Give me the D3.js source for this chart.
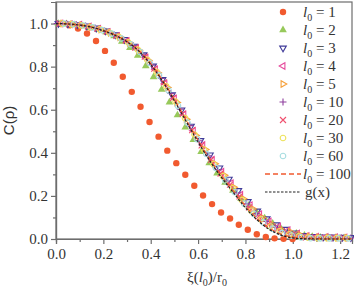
<!DOCTYPE html>
<html>
<head>
<meta charset="utf-8">
<script src="https://cdn.jsdelivr.net/npm/d3@7"></script>
<style>
  body { margin: 0; background: #fff; }
  svg { display: block; }
</style>
</head>
<body>
<script>
// data
var labels = ["1", "2", "3", "4", "5", "10", "20", "30", "60"];

var s1 = [[0.018,0.999],[0.056,0.992],[0.093,0.977],[0.131,0.954],[0.169,0.919],[0.207,0.873],[0.244,0.818],[0.282,0.753],[0.320,0.683],[0.357,0.614],[0.395,0.543],[0.433,0.475],[0.470,0.410],[0.508,0.352],[0.546,0.298],[0.584,0.247],[0.621,0.202],[0.659,0.162],[0.697,0.123],[0.735,0.095],[0.772,0.066],[0.810,0.043],[0.848,0.022],[0.886,0.009],[0.923,0.003],[0.961,0.001],[0.999,0.000]];

var s2 = [[0.010,1.000],[0.044,0.998],[0.077,0.994],[0.111,0.988],[0.144,0.980],[0.178,0.972],[0.211,0.961],[0.245,0.942],[0.278,0.917],[0.312,0.887],[0.345,0.851],[0.379,0.803],[0.412,0.752],[0.446,0.694],[0.479,0.635],[0.513,0.575],[0.546,0.519],[0.580,0.460],[0.613,0.405],[0.647,0.352],[0.680,0.305],[0.714,0.262],[0.747,0.225],[0.781,0.188],[0.814,0.156],[0.848,0.124],[0.881,0.097],[0.915,0.072],[0.948,0.052],[0.982,0.038],[1.015,0.026],[1.049,0.017],[1.082,0.011],[1.116,0.008],[1.149,0.006],[1.183,0.005],[1.216,0.004]];

var s3 = [[0.01,1.000],[0.05,0.998],[0.09,0.995],[0.13,0.989],[0.17,0.979],[0.21,0.966],[0.25,0.948],[0.29,0.926],[0.33,0.895],[0.37,0.855],[0.41,0.803],[0.45,0.740],[0.49,0.670],[0.53,0.599],[0.57,0.524],[0.61,0.457],[0.65,0.390],[0.69,0.330],[0.73,0.278],[0.77,0.225],[0.81,0.174],[0.85,0.130],[0.89,0.094],[0.93,0.066],[0.97,0.045],[1.01,0.028],[1.05,0.017],[1.09,0.012],[1.13,0.010],[1.17,0.009],[1.21,0.008],[1.245,0.007]];

var s4 = [[0.02,1.000],[0.06,0.997],[0.10,0.994],[0.14,0.986],[0.18,0.976],[0.22,0.961],[0.26,0.942],[0.30,0.919],[0.34,0.886],[0.38,0.841],[0.42,0.787],[0.46,0.721],[0.50,0.652],[0.54,0.578],[0.58,0.502],[0.62,0.436],[0.66,0.368],[0.70,0.312],[0.74,0.259],[0.78,0.205],[0.82,0.157],[0.86,0.115],[0.90,0.081],[0.94,0.058],[0.98,0.040],[1.02,0.025],[1.06,0.014],[1.10,0.010],[1.14,0.009],[1.18,0.008],[1.22,0.007]];

var s5 = [[0.03,1.000],[0.07,0.996],[0.11,0.992],[0.15,0.984],[0.19,0.972],[0.23,0.957],[0.27,0.937],[0.31,0.911],[0.35,0.876],[0.39,0.828],[0.43,0.771],[0.47,0.703],[0.51,0.634],[0.55,0.556],[0.59,0.480],[0.63,0.415],[0.67,0.349],[0.71,0.296],[0.75,0.240],[0.79,0.187],[0.83,0.140],[0.87,0.100],[0.91,0.069],[0.95,0.045],[0.99,0.033],[1.03,0.020],[1.07,0.012],[1.11,0.008],[1.15,0.007],[1.19,0.006],[1.23,0.006]];

var s10 = [[0.005,1.000],[0.045,0.999],[0.085,0.995],[0.125,0.989],[0.165,0.979],[0.205,0.965],[0.245,0.948],[0.285,0.926],[0.325,0.898],[0.365,0.858],[0.405,0.807],[0.445,0.745],[0.485,0.675],[0.525,0.603],[0.565,0.526],[0.605,0.456],[0.645,0.386],[0.685,0.322],[0.725,0.269],[0.765,0.214],[0.805,0.163],[0.845,0.118],[0.885,0.081],[0.925,0.054],[0.965,0.034],[1.005,0.019],[1.045,0.010],[1.085,0.007],[1.125,0.006],[1.165,0.005],[1.205,0.005],[1.245,0.005]];

var s20 = [[0.015,1.000],[0.055,0.998],[0.095,0.994],[0.135,0.987],[0.175,0.976],[0.215,0.962],[0.255,0.943],[0.295,0.921],[0.335,0.888],[0.375,0.846],[0.415,0.791],[0.455,0.727],[0.495,0.655],[0.535,0.582],[0.575,0.505],[0.615,0.435],[0.655,0.367],[0.695,0.304],[0.735,0.252],[0.775,0.198],[0.815,0.147],[0.855,0.104],[0.895,0.069],[0.935,0.046],[0.975,0.028],[1.015,0.016],[1.055,0.008],[1.095,0.006],[1.135,0.005],[1.175,0.005],[1.215,0.004]];

var s30 = [[0.025,1.000],[0.065,0.997],[0.105,0.992],[0.145,0.984],[0.185,0.973],[0.225,0.958],[0.265,0.938],[0.305,0.913],[0.345,0.879],[0.385,0.832],[0.425,0.776],[0.465,0.709],[0.505,0.638],[0.545,0.561],[0.585,0.485],[0.625,0.415],[0.665,0.348],[0.705,0.291],[0.745,0.235],[0.785,0.180],[0.825,0.131],[0.865,0.091],[0.905,0.058],[0.945,0.036],[0.985,0.022],[1.025,0.012],[1.065,0.006],[1.105,0.004],[1.145,0.004],[1.185,0.004],[1.225,0.004]];

var s60 = [[0.035,1.000],[0.075,0.996],[0.115,0.991],[0.155,0.982],[0.195,0.969],[0.235,0.953],[0.275,0.931],[0.315,0.904],[0.355,0.868],[0.395,0.818],[0.435,0.759],[0.475,0.690],[0.515,0.618],[0.555,0.540],[0.595,0.464],[0.635,0.395],[0.675,0.330],[0.715,0.272],[0.755,0.217],[0.795,0.164],[0.835,0.117],[0.875,0.077],[0.915,0.048],[0.955,0.027],[0.995,0.016],[1.035,0.008],[1.075,0.004],[1.115,0.003],[1.155,0.003],[1.195,0.003],[1.235,0.003]];

// lines, sampled every 0.05
var lineX = [0,0.05,0.10,0.15,0.20,0.25,0.30,0.35,0.40,0.45,0.50,0.55,0.60,0.65,0.70,0.75,0.80,0.85,0.90,0.95,1.00,1.05,1.10,1.15,1.20,1.25];
var l100 = [1.000,0.998,0.993,0.984,0.968,0.947,0.917,0.875,0.814,0.737,0.648,0.552,0.458,0.370,0.292,0.222,0.153,0.095,0.051,0.023,0.009,0.004,0.002,0.001,0.001,0.001];
var gx = [1.000,0.998,0.993,0.983,0.967,0.945,0.915,0.872,0.810,0.732,0.642,0.545,0.450,0.362,0.284,0.214,0.145,0.088,0.045,0.018,0.005,0.001,0,0,0,0];

var xTicks = [0, 0.2, 0.4, 0.6, 0.8, 1.0, 1.2];
var yTicks = [0, 0.2, 0.4, 0.6, 0.8, 1.0];

var width = 354, height = 290;
var margin = {top: 2, right: 2, bottom: 51, left: 56};
var axisColor = "#6d6d6d";
var serif = "'Liberation Serif'";

var svg = d3.select("body").append("svg")
    .attr("width", width)
    .attr("height", height);

var x = d3.scaleLinear().domain([0, 1.25]).range([margin.left, width - margin.right]);
var y = d3.scaleLinear().domain([0, 1.1]).range([height - margin.bottom, margin.top]);

// frame
svg.append("rect")
    .attr("x", margin.left)
    .attr("y", margin.top)
    .attr("width", width - margin.right - margin.left)
    .attr("height", height - margin.bottom - margin.top)
    .attr("fill", "none")
    .attr("stroke", axisColor)
    .attr("stroke-width", 1.2);

var fmt = d3.format(".1f");

var xAxis = svg.append("g")
    .attr("transform", "translate(0," + (height - margin.bottom) + ")")
    .call(d3.axisBottom(x).tickValues(xTicks).tickFormat(fmt).tickSize(5).tickPadding(4));
var xMinor = svg.append("g")
    .attr("transform", "translate(0," + (height - margin.bottom) + ")")
    .call(d3.axisBottom(x).tickValues([0.1, 0.3, 0.5, 0.7, 0.9, 1.1]).tickFormat("").tickSize(3));

var yAxis = svg.append("g")
    .attr("transform", "translate(" + margin.left + ",0)")
    .call(d3.axisLeft(y).tickValues(yTicks).tickFormat(fmt).tickSize(5).tickPadding(3));
var yMinor = svg.append("g")
    .attr("transform", "translate(" + margin.left + ",0)")
    .call(d3.axisLeft(y).tickValues([0.1, 0.3, 0.5, 0.7, 0.9]).tickFormat("").tickSize(3));

[xAxis, xMinor, yAxis, yMinor].forEach(function(a) {
    a.select(".domain").attr("stroke", axisColor).attr("stroke-width", 1.2);
    a.selectAll(".tick line").attr("stroke", axisColor).attr("stroke-width", 1.2);
    a.selectAll(".tick text")
        .attr("fill", "#333")
        .attr("font-family", serif)
        .attr("font-size", 15);
});

// axis titles
svg.append("text")
    .attr("transform", "translate(14," + y(0.55) + ") rotate(-90)")
    .attr("text-anchor", "middle")
    .attr("font-family", "'Liberation Sans'")
    .attr("font-size", 15)
    .attr("fill", "#333")
    .text("C(ρ)");

var xt = svg.append("text")
    .attr("x", 207)
    .attr("y", 282)
    .attr("text-anchor", "middle")
    .attr("font-family", serif)
    .attr("font-size", 15)
    .attr("fill", "#333");
xt.append("tspan").text("ξ(");
xt.append("tspan").attr("font-style", "italic").text("l");
xt.append("tspan").attr("dy", 4).attr("font-size", 10).text("0");
xt.append("tspan").attr("dy", -4).text(")/r");
xt.append("tspan").attr("dy", 4).attr("font-size", 10).text("0");

// markers
var tri = function(size, angle) {
    var r = size;
    var pts = [[0, -r], [r * 0.87, r * 0.5], [-r * 0.87, r * 0.5]];
    var a = angle * Math.PI / 180;
    return "M" + pts.map(function(p) {
        return [p[0] * Math.cos(a) - p[1] * Math.sin(a), p[0] * Math.sin(a) + p[1] * Math.cos(a)].map(function(v) { return v.toFixed(2); }).join(",");
    }).join("L") + "Z";
};
var circ = function(r) {
    return "M" + (-r) + ",0A" + r + "," + r + " 0 1,0 " + r + ",0A" + r + "," + r + " 0 1,0 " + (-r) + ",0Z";
};

var styles = [
    {data: s1, path: circ(3.2), fill: "#f15a2f", stroke: "none"},
    {data: s2, path: tri(4.4, 0), fill: "#97c95b", stroke: "none"},
    {data: s3, path: tri(3.8, 180), fill: "none", stroke: "#3f3a98"},
    {data: s4, path: tri(3.8, -90), fill: "none", stroke: "#e64a9c"},
    {data: s5, path: tri(3.8, 90), fill: "none", stroke: "#f6a03a"},
    {data: s10, path: "M-3.5,0L3.5,0M0,-3.5L0,3.5", fill: "none", stroke: "#8e3f9d"},
    {data: s20, path: "M-3,-3L3,3M-3,3L3,-3", fill: "none", stroke: "#f0506e"},
    {data: s30, path: circ(2.8), fill: "none", stroke: "#ede25a"},
    {data: s60, path: circ(2.8), fill: "none", stroke: "#a6dde0"}
];

styles.forEach(function(st) {
    svg.append("g").selectAll("path")
        .data(st.data)
        .enter()
        .append("path")
        .attr("transform", function(d) { return "translate(" + x(d[0]) + "," + y(d[1]) + ")"; })
        .attr("d", st.path)
        .attr("fill", st.fill)
        .attr("stroke", st.stroke)
        .attr("stroke-width", 1.1);
});

var line = d3.line()
    .x(function(d, i) { return x(lineX[i]); })
    .y(function(d) { return y(d); })
    .curve(d3.curveMonotoneX);

svg.append("path")
    .attr("d", line(l100))
    .attr("fill", "none")
    .attr("stroke", "#f15a2f")
    .attr("stroke-width", 1.3)
    .attr("stroke-dasharray", "5,3");

svg.append("path")
    .attr("d", line(gx))
    .attr("fill", "none")
    .attr("stroke", "#222")
    .attr("stroke-width", 1.2)
    .attr("stroke-dasharray", "2.5,1.5");

// legend
var legY = [12, 30, 48, 66, 84, 102, 120, 138, 156];
var legend = svg.append("g");
styles.forEach(function(st, i) {
    legend.append("path")
        .attr("transform", "translate(283," + legY[i] + ")")
        .attr("d", st.path)
        .attr("fill", st.fill)
        .attr("stroke", st.stroke)
        .attr("stroke-width", 1.1);
});

var legText = function(ty, label) {
    var t = legend.append("text")
        .attr("x", 303)
        .attr("y", ty + 5)
        .attr("font-family", serif)
        .attr("font-size", 15)
        .attr("fill", "#333");
    t.append("tspan").attr("font-style", "italic").text("l");
    t.append("tspan").attr("dy", 4).attr("font-size", 10).text("0");
    t.append("tspan").attr("dy", -4).text(" = " + label);
};
labels.forEach(function(lab, i) { legText(legY[i], lab); });
legText(174, "100");

legend.append("line")
    .attr("x1", 265).attr("x2", 301)
    .attr("y1", 174).attr("y2", 174)
    .attr("stroke", "#f15a2f")
    .attr("stroke-width", 1.3)
    .attr("stroke-dasharray", "5,3");
legend.append("line")
    .attr("x1", 265).attr("x2", 301)
    .attr("y1", 192).attr("y2", 192)
    .attr("stroke", "#222")
    .attr("stroke-width", 1.2)
    .attr("stroke-dasharray", "2.5,1.5");
legend.append("text")
    .attr("x", 305)
    .attr("y", 197)
    .attr("font-family", serif)
    .attr("font-size", 15)
    .attr("fill", "#333")
    .text("g(x)");
</script>
</body>
</html>
